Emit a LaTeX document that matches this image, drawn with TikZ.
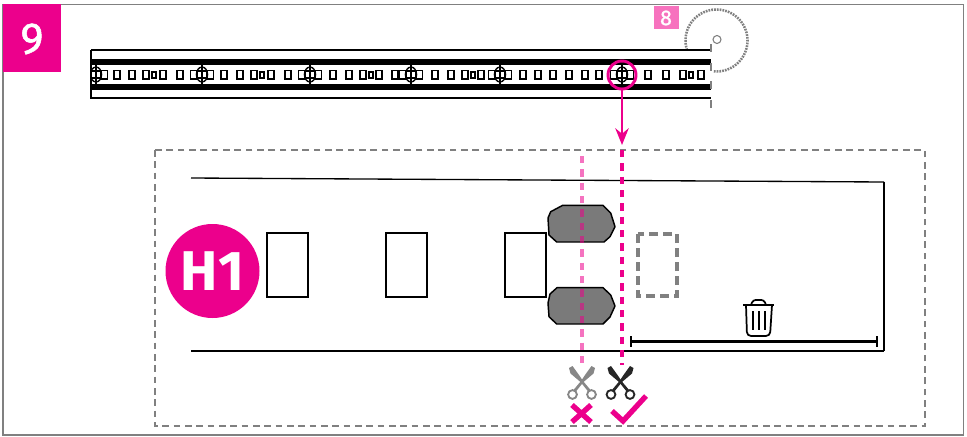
\documentclass[tikz,border=0pt]{standalone}
\usepackage{fontspec}
\setmainfont{Fira Sans}
\newfontfamily\stepfont[FakeBold=1.2]{Fira Sans}
\usetikzlibrary{arrows.meta}
\definecolor{brandpink}{HTML}{EC008C}
\definecolor{lightpink}{HTML}{F772BE}
\definecolor{framegray}{HTML}{808080}
\definecolor{bladegray}{HTML}{7A7A7A}
\tikzset{
    chip/.style={draw=black, line width=1.2pt, fill=white},
    cutline/.style={draw=brandpink, line width=2.5pt, dash pattern=on 5.5pt off 4.5pt},
    insetdash/.style={draw=framegray, line width=2.6pt, dash pattern=on 6.5pt off 4pt},
    blob/.style={fill=bladegray, draw=black, line width=1.1pt, line join=round},
    padbox/.style={draw=black, line width=0.9pt, fill=white},
    scissors/.pic={
        \fill (-13,-13) -- (-9.5,-15) -- (-3,-6) -- (1,0) -- (9,9.5) -- (6.5,11) -- (-1.5,1) -- (-11.5,-7.5) -- cycle;
        \fill (13,-13) -- (9.5,-15) -- (3,-6) -- (-1,0) -- (-9,9.5) -- (-6.5,11) -- (1.5,1) -- (11.5,-7.5) -- cycle;
        \draw[line width=1.4pt] (-9.5,13.5) circle (3.3pt);
        \draw[line width=1.4pt] (9.5,13.5) circle (3.3pt);
    }
}
\begin{document}
\begin{tikzpicture}[x=0.75pt,y=-0.75pt]
    \useasboundingbox (0,0) rectangle (967,436);
    % outer frame and step number
    \draw[framegray, line width=1pt] (3,435) rectangle (963.5,4.5);
    \fill[brandpink] (3,4) rectangle (61,72);
    \node[text=white, font=\stepfont\fontsize{33}{33}\selectfont, inner sep=0pt] (stepnine) at (32,39) {9};
    \fill[lightpink] (654,6) rectangle (679,29);
    \node[text=white, font=\stepfont\fontsize{16}{16}\selectfont, inner sep=0pt] (stepeight) at (666,18) {8};
    % saw blade
    \draw[framegray, line width=1.9pt, dash pattern=on 1.3pt off 0.8pt]
        plot[domain=95:-196, samples=80] ({716.5+31*cos(\x)},{40.5+31*sin(\x)});
    \draw[framegray, line width=0.8pt] (717,39.5) circle (3pt);
    % strip
    \draw[black, line width=1.1pt] (91,50) -- (711,50);
    \draw[black, line width=1.1pt] (91,98) -- (711,98);
    \fill[black] (91,58.5) rectangle (711,64.5);
    \fill[black] (91,83.5) rectangle (711,90);
    \foreach \x in {117,132,146,163,180,224,240,254,271,288,333,349,363,379,395,435,451,465,481,523,538,553,569,585,599,648,666,683,701} {
        \draw[chip] (\x-3,70.5) rectangle (\x+3,79);
    }
    \foreach \x in {154,262,371,473,691} {
        \draw[chip] (\x-2,72) rectangle (\x+2,78);
    }
    \begin{scope}
        \clip (91,50) rectangle (711,98);
        \foreach \x in {96,202,310,411,500,622} {
            \draw[chip] (\x-11.5,70.5) rectangle (\x-5,79);
            \draw[chip] (\x+5,70.5) rectangle (\x+11.5,79);
            \draw[black, line width=1pt] (\x,74.5) ellipse (4.2pt and 5.6pt);
            \draw[black, line width=1pt] (\x,63) -- (\x,84);
            \draw[black, line width=1pt] (\x-5.5,71) -- (\x+5.5,71);
            \draw[black, line width=1pt] (\x-5.5,78) -- (\x+5.5,78);
        }
    \end{scope}
    \draw[black, line width=1.8pt] (91,49.5) -- (91,98.5);
    \draw[framegray, line width=1.9pt, dash pattern=on 6pt off 8pt] (711,44) -- (711,110);
    % pointer to the detail
    \node[draw=brandpink, line width=2.2pt, circle, minimum size=21pt, inner sep=0pt] (cutmark) at (622,75) {};
    \coordinate (detailtop) at (622,145);
    \draw[-{Stealth[length=12.5pt,width=10pt]}, brandpink, line width=2pt] (cutmark) -- (detailtop);
    % detail box
    \draw[insetdash, line width=1.3pt, dash pattern=on 5pt off 3.5pt] (155,150) rectangle (925,426);
    \draw[black, line width=1pt] (191,178) -- (884,182);
    \draw[black, line width=1pt] (191,351) -- (884,351);
    \draw[black, line width=1.8pt] (884,182) -- (884,351);
    \node[fill=brandpink, circle, minimum size=70.5pt, inner sep=0pt, text=white, font=\fontsize{42}{42}\selectfont\bfseries] (hone) at (212.5,271) {H1};
    \draw[padbox] (267,233) rectangle (308,297);
    \draw[padbox] (386,233) rectangle (427,297);
    \draw[padbox] (505,233) rectangle (546,297);
    \filldraw[blob]
        (562.7,205.3) -- (603,205.3) -- (610.7,213) -- (615,226.7) -- (610,236.7) -- (604,242)
        -- (556.7,242) -- (549,235) -- (548,218) -- (550.7,211.7) -- cycle;
    \filldraw[blob]
        (557,287.7) -- (603,287.7) -- (610.7,295) -- (615,306) -- (610,317) -- (603,324)
        -- (556.7,324) -- (549,316.7) -- (548,303) -- (550,294) -- cycle;
    \draw[insetdash] (638,234) rectangle (677,296);
    % cut lines
    \draw[cutline, opacity=0.55] (582,156) -- (582,365);
    \draw[cutline] (622,150) -- (622,365);
    % part to throw away
    \draw[black, line width=1.8pt] (631,336) -- (631,347);
    \draw[black, line width=1.8pt] (877,336) -- (877,347);
    \draw[black, line width=1.8pt] (631,341.5) -- (877,341.5);
    \draw[black, line width=1.3pt] (743,305) -- (774,305);
    \draw[black, line width=1.3pt, rounded corners=2pt] (751,305) -- (753,300) -- (764,300) -- (766,305);
    \draw[black, line width=1.3pt, rounded corners=3pt] (746,305) -- (747,336) -- (770,336) -- (772,305);
    \foreach \x in {752.5,758.5,764.5} {
        \draw[black, line width=1.5pt] (\x,311) -- (\x,330);
    }
    % scissors with marks
    \pic[color=bladegray!90, fill=bladegray!90] at (582,381) {scissors};
    \pic[color=black!85, fill=black!85] at (620.5,381) {scissors};
    \draw[brandpink, line width=4pt] (572,405) -- (591,422);
    \draw[brandpink, line width=4pt] (591,405) -- (572,422);
    \draw[brandpink, line width=4pt] (612,411) -- (623,421) -- (646,396);
\end{tikzpicture}
\end{document}
